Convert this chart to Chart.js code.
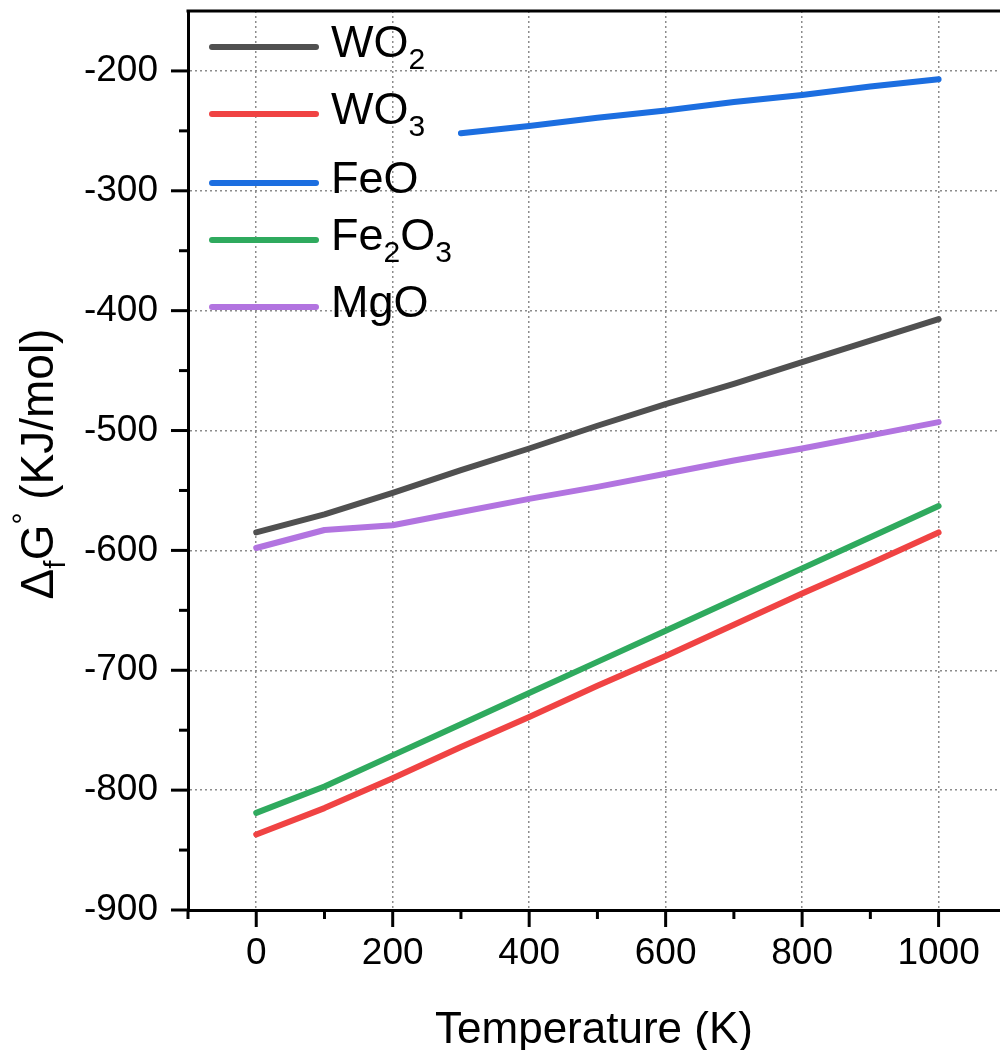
<!DOCTYPE html>
<html>
<head>
<meta charset="utf-8">
<script src="https://cdn.jsdelivr.net/npm/chart.js@4.4.0/dist/chart.umd.min.js"></script>
<style>
  html, body { margin: 0; padding: 0; background: #fff; }
  #grafico { display: block; }
</style>
</head>
<body>
<canvas id="grafico" width="1000" height="1050"></canvas>
<script>
// Datos (Temperatura en K, ΔfG° en KJ/mol)
const temperaturas = [0, 100, 200, 300, 400, 500, 600, 700, 800, 900, 1000];
const wo2   = [-585, -570, -552, -533, -515, -496, -478, -461, -443, -425, -407];
const wo3   = [-837, -815, -790, -764, -739, -713, -688, -662, -636, -611, -585];
const feo   = [null, null, null, -252, -246, -239, -233, -226, -220, -213, -207];
const fe2o3 = [-819, -797, -771, -745, -719, -693, -667, -641, -615, -589, -563];
const mgo   = [-598, -583, -579, -568, -557, -547, -536, -525, -515, -504, -493];

// Etiquetas de los ejes
const xEtiquetas = [0, 200, 400, 600, 800, 1000];
const yEtiquetas = [-900, -800, -700, -600, -500, -400, -300, -200];
const xMarcas = [-100, 0, 100, 200, 300, 400, 500, 600, 700, 800, 900, 1000];
const yMarcas = [-900, -850, -800, -750, -700, -650, -600, -550, -500, -450, -400, -350, -300, -250, -200];

const FUENTE = 'Arial, "Liberation Sans", sans-serif';

// Leyenda: partes de texto con subíndices
const series = [
  { nombre: [['WO', 0], ['2', 1]], datos: wo2, color: '#505050' },
  { nombre: [['WO', 0], ['3', 1]], datos: wo3, color: '#f04343' },
  { nombre: [['FeO', 0]], datos: feo, color: '#1c6ee0' },
  { nombre: [['Fe', 0], ['2', 1], ['O', 0], ['3', 1]], datos: fe2o3, color: '#2faa5e' },
  { nombre: [['MgO', 0]], datos: mgo, color: '#b274e0' }
];
const leyendaY = [47, 114, 183, 240, 307];

function puntos(arr) {
  return temperaturas.map((t, i) => ({ x: t, y: arr[i] })).filter(p => p.y !== null);
}

// Plugin para marcas, borde superior, títulos y leyenda
const extras = {
  id: 'extras',
  afterDraw(chart) {
    const ctx = chart.ctx;
    const area = chart.chartArea;
    const xs = chart.scales.x;
    const ys = chart.scales.y;
    ctx.save();
    ctx.strokeStyle = '#000';
    ctx.lineWidth = 3;
    // borde superior
    ctx.beginPath();
    ctx.moveTo(area.left - 1.5, area.top);
    ctx.lineTo(area.right, area.top);
    ctx.stroke();
    // marcas del eje x
    xMarcas.forEach(v => {
      const px = xs.getPixelForValue(v);
      const largo = xEtiquetas.includes(v) ? 17 : 9;
      ctx.beginPath();
      ctx.moveTo(px, area.bottom);
      ctx.lineTo(px, area.bottom + largo);
      ctx.stroke();
    });
    // marcas del eje y
    yMarcas.forEach(v => {
      const py = ys.getPixelForValue(v);
      const largo = yEtiquetas.includes(v) ? 17 : 9;
      ctx.beginPath();
      ctx.moveTo(area.left, py);
      ctx.lineTo(area.left - largo, py);
      ctx.stroke();
    });

    ctx.fillStyle = '#000';
    // título eje x
    ctx.font = '44px ' + FUENTE;
    ctx.textAlign = 'center';
    ctx.textBaseline = 'alphabetic';
    ctx.fillText('Temperature (K)', (area.left + area.right) / 2, 1043);

    // título eje y (con subíndice y superíndice)
    const partes = [
      { t: 'Δ', s: 46, dy: 0 },
      { t: 'f', s: 30, dy: 12 },
      { t: 'G', s: 46, dy: 0 },
      { t: '°', s: 30, dy: -20 },
      { t: ' (KJ/mol)', s: 46, dy: 0 }
    ];
    let total = 0;
    partes.forEach(p => { ctx.font = p.s + 'px ' + FUENTE; p.w = ctx.measureText(p.t).width; total += p.w; });
    ctx.translate(53, 464);
    ctx.rotate(-Math.PI / 2);
    ctx.textAlign = 'left';
    let x0 = -total / 2;
    partes.forEach(p => {
      ctx.font = p.s + 'px ' + FUENTE;
      ctx.fillText(p.t, x0, p.dy);
      x0 += p.w;
    });
    ctx.setTransform(1, 0, 0, 1, 0, 0);

    // leyenda
    series.forEach((s, i) => {
      const y = leyendaY[i];
      ctx.strokeStyle = s.color;
      ctx.lineWidth = 6;
      ctx.lineCap = 'round';
      ctx.beginPath();
      ctx.moveTo(212, y);
      ctx.lineTo(316, y);
      ctx.stroke();
      let x = 331;
      s.nombre.forEach(([txt, sub]) => {
        ctx.font = (sub ? 30 : 45) + 'px ' + FUENTE;
        ctx.fillStyle = '#000';
        ctx.fillText(txt, x, y + 10 + (sub ? 12 : 0));
        x += ctx.measureText(txt).width;
      });
    });
    ctx.restore();
  }
};

const ctx = document.getElementById('grafico').getContext('2d');
new Chart(ctx, {
  type: 'line',
  data: {
    datasets: series.map(s => ({
      data: puntos(s.datos),
      borderColor: s.color,
      backgroundColor: s.color,
      borderWidth: 6,
      borderCapStyle: 'round',
      borderJoinStyle: 'round',
      pointRadius: 0,
      tension: 0,
      fill: false
    }))
  },
  options: {
    responsive: false,
    animation: false,
    layout: { padding: { top: 11, right: 0, left: 0, bottom: 0 } },
    plugins: { legend: { display: false }, tooltip: { enabled: false } },
    scales: {
      x: {
        type: 'linear',
        min: -100,
        max: 1090,
        afterBuildTicks: s => { s.ticks = xMarcas.map(v => ({ value: v })); },
        afterFit: s => { s.height = 140; s.paddingLeft = 0; s.paddingRight = 0; },
        ticks: {
          autoSkip: false,
          maxRotation: 0,
          padding: 22,
          color: '#000',
          font: { family: FUENTE, size: 37 },
          callback: v => xEtiquetas.includes(v) ? String(v) : ''
        },
        grid: {
          drawTicks: false,
          lineWidth: 1.5,
          color: c => (c.tick && xEtiquetas.includes(c.tick.value)) ? '#8c8c8c' : 'rgba(0,0,0,0)'
        },
        border: { display: true, color: '#000', width: 3, dash: [2, 3] }
      },
      y: {
        type: 'linear',
        min: -900,
        max: -150,
        afterBuildTicks: s => { s.ticks = yMarcas.map(v => ({ value: v })); },
        afterFit: s => { s.width = 188; s.paddingTop = 0; s.paddingBottom = 0; },
        ticks: {
          autoSkip: false,
          padding: 30,
          color: '#000',
          font: { family: FUENTE, size: 37 },
          callback: v => yEtiquetas.includes(v) ? String(v) : ''
        },
        grid: {
          drawTicks: false,
          lineWidth: 1.5,
          color: c => (c.tick && yEtiquetas.includes(c.tick.value) && c.tick.value !== -900) ? '#8c8c8c' : 'rgba(0,0,0,0)'
        },
        border: { display: true, color: '#000', width: 3, dash: [2, 3] }
      }
    }
  },
  plugins: [extras]
});
</script>
</body>
</html>
